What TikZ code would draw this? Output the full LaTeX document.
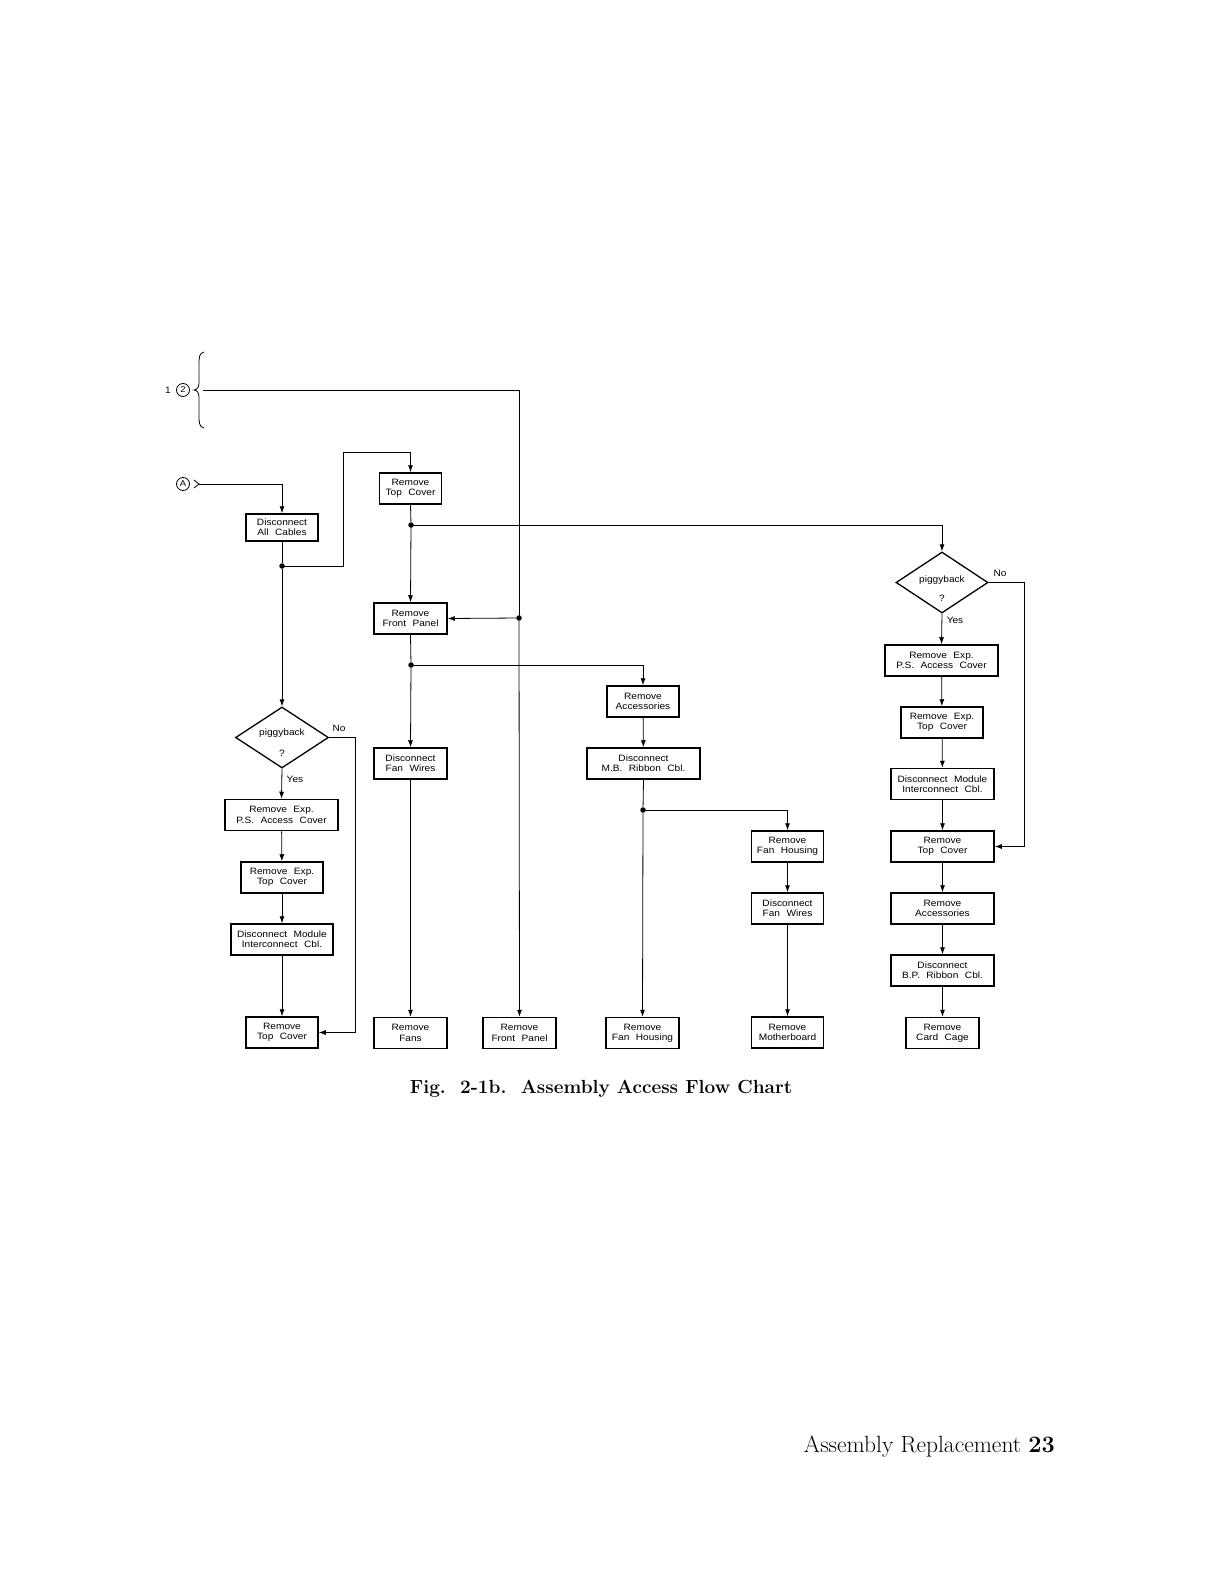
\documentclass[tikz,border=0pt]{standalone}
\usepackage{fontspec}
\newfontfamily\boxfont[FakeStretch=1.1]{Liberation Sans}
\newcommand\wordgap{\hspace{6.5pt}}
\usetikzlibrary{arrows.meta,shapes.geometric,calc}
\begin{document}
\begin{tikzpicture}[x=1pt,y=-1pt,
  box/.style={draw,line width=1.5pt,inner sep=0pt,align=center,
    font=\boxfont\fontsize{9.2}{10.4}\selectfont,minimum height=31pt},
  dec/.style={draw,diamond,line width=1.3pt,inner sep=0pt,
    minimum width=93pt,minimum height=61pt},
  conn/.style={line width=0.8pt,-{Latex[length=7pt,width=5pt]}},
  plain/.style={line width=0.8pt},
  dot/.style={circle,fill,inner sep=0pt,minimum size=5.5pt},
  lbl/.style={font=\boxfont\fontsize{9.2}{10}\selectfont,inner sep=0pt},
  ring/.style={circle,draw,line width=0.8pt,minimum size=13pt,inner sep=0pt,
    font=\boxfont\fontsize{8.5}{8.5}\selectfont}
]
\useasboundingbox[fill=white] (0,0) rectangle (1221,1581);

% entry points
\node[lbl] (one) at (168,390) {1};
\node[ring] (c2) at (183,390) {2};
\draw[line width=0.8pt] (204,352) .. controls (199,353) and (199,358) .. (199,365)
  -- (199,383) .. controls (199,387) and (197,390) .. (194,390)
  .. controls (197,390) and (199,393) .. (199,397)
  -- (199,415) .. controls (199,422) and (199,427) .. (204,428);
\coordinate (bs) at (203,390);

\node[ring] (ca) at (183,484) {A};
\draw[line width=0.8pt] (194,480) -- (199,484) -- (194,488);
\coordinate (as) at (199,484);

% left column
\node[box,minimum width=72pt,minimum height=27pt] (dac) at (282,527.5) {Disconnect\\All\wordgap Cables};
\node[dec] (dL) at (282,737.5) {};
\node[lbl] at (282,733) {piggyback};
\node[lbl] at (282,753) {?};
\node[box,minimum width=113pt] (lpsa) at (281.5,815) {Remove\wordgap Exp.\\P.S.\wordgap Access\wordgap Cover};
\node[box,minimum width=82pt] (letc) at (282,877.5) {Remove\wordgap Exp.\\Top\wordgap Cover};
\node[box,minimum width=102pt] (ldm) at (282,939.5) {Disconnect\wordgap Module\\Interconnect\wordgap Cbl.};
\node[box,minimum width=72pt] (ltc) at (282,1032.5) {Remove\\Top\wordgap Cover};
\node[lbl] at (339,728) {No};
\node[lbl] at (295,779) {Yes};

% column 2
\node[box,minimum width=62pt] (rtc) at (410.5,488.5) {Remove\\Top\wordgap Cover};
\node[box,minimum width=73pt] (rfp) at (410.5,618.5) {Remove\\Front\wordgap Panel};
\node[box,minimum width=73pt] (dfw) at (410.5,763.5) {Disconnect\\Fan\wordgap Wires};
\node[box,minimum width=73pt] (rf) at (410.5,1033) {Remove\\Fans};

% column 3
\node[box,minimum width=73pt] (rfp2) at (519.5,1033) {Remove\\Front\wordgap Panel};

% column 4
\node[box,minimum width=72pt] (racc) at (643,701.5) {Remove\\Accessories};
\node[box,minimum width=113pt] (dmb) at (643.5,763.5) {Disconnect\\M.B.\wordgap Ribbon\wordgap Cbl.};
\node[box,minimum width=73pt] (rfh2) at (642.5,1033) {Remove\\Fan\wordgap Housing};

% column 5
\node[box,minimum width=72pt] (rfh) at (787.5,846.5) {Remove\\Fan\wordgap Housing};
\node[box,minimum width=72pt] (dfw2) at (787.5,908.5) {Disconnect\\Fan\wordgap Wires};
\node[box,minimum width=72pt] (rmb) at (787.5,1032.5) {Remove\\Motherboard};

% right column
\node[dec,minimum width=92pt] (dR) at (942,582.5) {};
\node[lbl] at (942,580) {piggyback};
\node[lbl] at (942,598) {?};
\node[box,minimum width=113pt] (rpsa) at (941.5,660.5) {Remove\wordgap Exp.\\P.S.\wordgap Access\wordgap Cover};
\node[box,minimum width=82pt] (retc) at (942,722.5) {Remove\wordgap Exp.\\Top\wordgap Cover};
\node[box,minimum width=103pt] (rdm) at (942.5,784) {Disconnect\wordgap Module\\Interconnect\wordgap Cbl.};
\node[box,minimum width=103pt] (rtc2) at (942.5,846.5) {Remove\\Top\wordgap Cover};
\node[box,minimum width=103pt] (racc2) at (942.5,908.5) {Remove\\Accessories};
\node[box,minimum width=103pt] (dbp) at (942.5,970.5) {Disconnect\\B.P.\wordgap Ribbon\wordgap Cbl.};
\node[box,minimum width=73pt] (rcc) at (942.5,1033) {Remove\\Card\wordgap Cage};
\node[lbl] at (1000,573) {No};
\node[lbl] at (955,620) {Yes};

% junctions
\node[dot] (j1) at (282,566) {};
\node[dot] (j2) at (411,525) {};
\node[dot] (j3) at (411,665) {};
\node[dot] (j4) at (643,810) {};
\node[dot] (j5) at (519,618) {};

% connectors
\draw[conn] (as) -| (dac.north);
\draw[plain] (dac.south) -- (j1);
\draw[conn] (j1) -- (dL.north);
\draw[conn] (j1.center) -- (343,566) -- (343,452) -| (rtc.north);
\draw[conn] (dL.south) -- (lpsa.north);
\draw[conn] (lpsa) -- (letc);
\draw[conn] (letc) -- (ldm);
\draw[conn] (ldm) -- (ltc);
\draw[conn] (dL.east) -- ++(26,0) |- (ltc.east);

\draw[plain] (rtc.south) -- (j2);
\draw[conn] (j2) -- (rfp.north);
\draw[conn] (j2.center) -| (dR.north);
\draw[plain] (rfp.south) -- (j3);
\draw[conn] (j3) -- (dfw.north);
\draw[conn] (j3.center) -| (racc.north);
\draw[conn] (dfw) -- (rf);

\draw[plain] (bs) -| (j5.center);
\draw[conn] (j5) -- (rfp.east);
\draw[conn] (j5) -- (rfp2.north);

\draw[conn] (racc) -- (dmb);
\draw[plain] (dmb.south) -- (j4);
\draw[conn] (j4) -- (rfh2.north);
\draw[conn] (j4.center) -| (rfh.north);
\draw[conn] (rfh) -- (dfw2);
\draw[conn] (dfw2) -- (rmb);

\draw[conn] (dR.south) -- (rpsa.north);
\draw[conn] (rpsa) -- (retc);
\draw[conn] (retc) -- (rdm);
\draw[conn] (rdm) -- (rtc2);
\draw[conn] (rtc2) -- (racc2);
\draw[conn] (racc2) -- (dbp);
\draw[conn] (dbp) -- (rcc);
\draw[conn] (dR.east) -- ++(36,0) |- (rtc2.east);

% caption and footer
\node[anchor=base,inner sep=0pt,font=\bfseries\fontsize{19}{22}\selectfont] (cap) at (601,1093) {Fig.~~2-1b.~~Assembly Access Flow Chart};
\node[anchor=base east,inner sep=0pt,font=\fontsize{23.5}{26}\selectfont] (foot) at (1055,1452) {Assembly Replacement \textbf{23}};
\end{tikzpicture}
\end{document}
